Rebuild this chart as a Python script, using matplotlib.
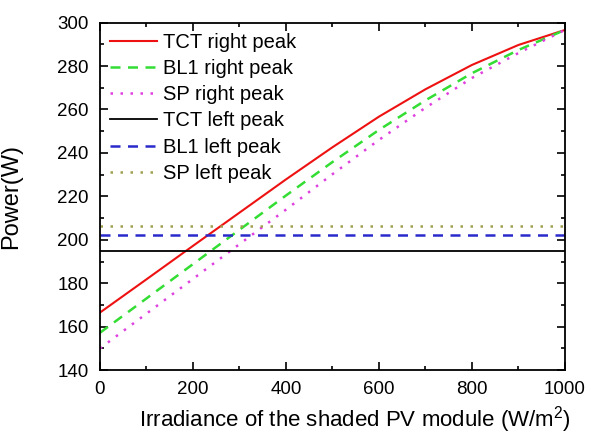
import matplotlib
matplotlib.use('Agg')
import matplotlib.pyplot as plt
from matplotlib.ticker import MultipleLocator

plt.rcParams['font.family'] = ['Liberation Sans', 'DejaVu Sans']
plt.rcParams['mathtext.default'] = 'regular'

irradiance = [0, 100, 200, 300, 400, 500, 600, 700, 800, 900, 1000]
tct_right = [166.5, 181.8, 197.2, 212.5, 227.8, 242.6, 256.7, 269.3, 280.5, 289.7, 296.6]
bl1_right = [157.2, 173.0, 188.8, 204.6, 220.4, 235.8, 250.6, 264.2, 276.7, 287.4, 296.6]
sp_right = [150.0, 166.0, 182.0, 198.0, 213.9, 230.2, 246.0, 260.8, 274.5, 286.0, 296.6]
tct_left = 195.0
bl1_left = 202.0
sp_left = 206.5

fig = plt.figure(figsize=(5.91, 4.34), dpi=100)
ax = fig.add_axes([0.169, 0.147, 0.787, 0.801])

ax.plot(irradiance, tct_right, color='#ee1111', lw=1.5, label='TCT right peak')
ax.plot(irradiance, bl1_right, color='#33dd33', lw=1.8, ls=(0, (4, 3)), label='BL1 right peak')
ax.plot(irradiance, sp_right, color='#e040e0', lw=1.8, ls=(0, (1, 3)), label='SP right peak')
ax.plot([0, 1000], [tct_left, tct_left], color='black', lw=1.3, label='TCT left peak')
ax.plot([0, 1000], [bl1_left, bl1_left], color='#2a2acc', lw=1.8, ls=(0, (4, 3)), label='BL1 left peak')
ax.plot([0, 1000], [sp_left, sp_left], color='#a0a050', lw=1.8, ls=(0, (1, 3)), label='SP left peak')

ax.set_xlim(0, 1000)
ax.set_ylim(140, 300)
ax.xaxis.set_major_locator(MultipleLocator(200))
ax.xaxis.set_minor_locator(MultipleLocator(100))
ax.yaxis.set_major_locator(MultipleLocator(20))
ax.yaxis.set_minor_locator(MultipleLocator(10))
ax.tick_params(which='both', direction='in', top=True, right=True, labelsize=13.5, width=1.2)
ax.tick_params(which='major', length=6, pad=8)
ax.tick_params(which='minor', length=3)
for s in ax.spines.values():
    s.set_linewidth(1.3)

# x label sits low and slightly right of the axes centre in the original
fig.text(355 / 591, 0.018, 'Irradiance of the shaded PV module (W/m$^2$)',
         fontsize=16, ha='center', va='baseline')
ax.set_ylabel('Power(W)', fontsize=17)
ax.yaxis.set_label_coords(-0.168, 0.5)

ax.legend(loc='upper left', frameon=False, fontsize=14.5, handlelength=2.35,
          labelspacing=0.36, handletextpad=0.3, borderaxespad=0.1,
          bbox_to_anchor=(0.0, 1.0))

fig.savefig('out.png', dpi=100)
